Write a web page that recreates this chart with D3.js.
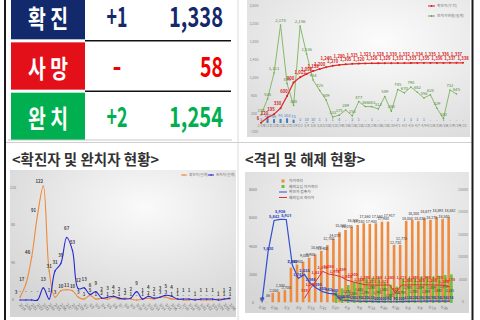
<!DOCTYPE html>
<html><head><meta charset="utf-8">
<script src="https://cdn.jsdelivr.net/npm/d3@7"></script>
<style>
body{margin:0;background:#fff;}
svg{display:block;font-family:"Noto Sans CJK KR","Noto Sans",sans-serif;}
</style></head><body>
<svg id="c" width="480" height="320"></svg>
<script>
// ---------------- DATA ----------------
const summaryLabels = ["확 진", "사 망", "완 치"];
const summaryChange = ["+1", "-", "+2"];
const summaryTotal = ["1,338", "58", "1,254"];

const cumDates = ["2/19","2/21","2/23","2/25","2/27","2/29","3/2","3/4","3/6","3/8","3/10","3/12","3/14","3/16","3/18","3/20","3/22","3/24","3/26","3/28","3/30","4/1","4/3","4/5","4/7","4/9","4/11","4/13","4/15","4/17","4/19","4/21"];
const cumConfirmed = [6,120,195,330,600,900,1015,1090,1155,1200,1240,1270,1290,1305,1315,1320,1323,1326,1328,1329,1330,1331,1332,1333,1334,1335,1335,1336,1336,1337,1337,1338];
const isolated = [178,536,1111,2178,876,388,2156,1536,954,725,509,133,175,289,158,477,366,363,312,589,260,745,670,798,682,556,628,329,100,732,645];
const dailyNew = [3,102,86,91,103,73,3,10,10,1,1,1,4,0,3,1,0,1,0,0,0,2,1,3,1,1,0,0,1,0,0,0];
const cumYTicks = [-200,200,600,1000,1400,1800,2200,2600];
const cumLegend = ["확진자(누적)", "완치자현황(일계)"];

const dayDates = ["2/19","2/20","2/21","2/22","2/23","2/24","2/25","2/26","2/27","2/28","2/29","3/1","3/2","3/3","3/4","3/5","3/6","3/7","3/8","3/9","3/10","3/11","3/12","3/13","3/14","3/15","3/16","3/17","3/18","3/19","3/20","3/21","3/22","3/23","3/24","3/25","3/26"];
const dailyConfirmed = [3,17,46,91,122,31,3,10,11,10,3,1,5,1,2,1,3,1,2,1,0,1,2,1,3,3,1,1,0,0,1,0,0,0,1,1,1];
const dailyRecovered = [0,0,0,0,13,1,31,39,67,53,12,13,6,9,2,3,4,2,1,2,9,1,4,2,3,5,4,1,1,1,0,1,1,1,0,1,2];
const dayYTicks = [0,40,80,120];
const dayLegend = ["확진자(일계)", "완치자(일계)"];

const qDates = ["2/20","2/23","2/26","2/29","3/3","3/6","3/9","3/12","3/15","3/18","3/21","3/24","3/27","3/30","4/2","4/5","4/8","4/11","4/14","4/17","4/20","4/23","4/26","4/29","5/2","5/5","5/8","5/11","5/14","5/17","5/20","5/23"];
const selfQuarantine = [12,56,2050,2300,2700,7700,8400,9000,9900,10670,11400,12700,14070,15560,16070,16800,17180,17560,17400,17560,17900,17917,12730,12775,18050,18300,18030,18677,18276,18893,18500,18882];
const overseasQuarantine = [0,0,0,0,0,0,0,0,0,0,0,0,799,1039,1272,1505,1625,1745,1788,1745,1505,1300,1153,1745,1788,1788,1859,1859,1859,1930,1978,2025];
const contacts = [49,3620,5842,5926,5913,2682,1741,2024,1388,1050,800,682,650,212,180,150,130,120,110,100,100,90,90,100,110,120,125,130,130,134,134,134];
const overseasArrivals = [null,null,null,null,null,null,null,329,1035,1617,2239,2050,1976,1859,1624,1500,1388,1290,1271,1265,1271,1280,702,1271,1280,1290,1285,1290,1280,1270,1260,1135];
const qLeftTicks = [0,2000,4000,6000,8000];
const qRightTicks = [0,5000,10000,15000,20000,25000];
const qLegend = ["자가격리", "해외유입 자가격리", "확진자 접촉자", "해외입국 격리자"];

// ---------------- DRAW ----------------
const svg = d3.select("#c");
const defs = svg.append("defs");
function grad(id, c0, c1, cx, cy) {
  const g = defs.append("radialGradient").attr("id", id).attr("cx", cx).attr("cy", cy).attr("r", "80%");
  g.append("stop").attr("offset", "0%").attr("stop-color", c0);
  g.append("stop").attr("offset", "100%").attr("stop-color", c1);
}
grad("gTR", "#fcfcfc", "#dcdcdc", "60%", "30%");
grad("gBL", "#fafafa", "#d4d4d4", "60%", "25%");
grad("gBR", "#fafafa", "#d6d6d6", "55%", "25%");
const fmt = d3.format(",");

// frame
svg.append("line").attr("x1",238).attr("x2",238).attr("y1",0).attr("y2",320).attr("stroke","#dadada");
svg.append("line").attr("x1",5).attr("x2",472).attr("y1",142.5).attr("y2",142.5).attr("stroke","#cfcfcf");
svg.append("line").attr("x1",5).attr("x2",5).attr("y1",0).attr("y2",320).attr("stroke","#1a1a1a").attr("stroke-width",2);
svg.append("line").attr("x1",472.5).attr("x2",472.5).attr("y1",0).attr("y2",320).attr("stroke","#1a1a1a").attr("stroke-width",2);

// ---- summary table ----
const rowY = d3.scaleBand().domain(summaryLabels).range([-8, 140]).paddingInner(0.06);
const boxColors = ["#12296c", "#e3101a", "#00b050"];
const numColors = ["#14286c", "#f00000", "#00b050"];
const tl = svg.append("g");
summaryLabels.forEach((lab, i) => {
  const y0 = rowY(lab), h = rowY.bandwidth(), cy = y0 + h / 2;
  tl.append("rect").attr("x", 11).attr("y", y0).attr("width", 74).attr("height", h).attr("fill", boxColors[i]);
  tl.append("text").attr("x", 48).attr("y", cy + 1).attr("text-anchor", "middle").attr("dominant-baseline", "central")
    .attr("fill", "#fff").attr("font-size", 25).attr("font-weight", 700)
    .attr("textLength", 40).attr("lengthAdjust", "spacingAndGlyphs").text(lab);
  const ch = summaryChange[i];
  tl.append("text").attr("x", 117).attr("y", cy + 11).attr("text-anchor", "middle")
    .attr("fill", numColors[i]).attr("font-size", 28).attr("font-weight", 700)
    .attr("textLength", ch.length > 1 ? 21 : 9).attr("lengthAdjust", "spacingAndGlyphs").text(ch);
  const tot = summaryTotal[i];
  tl.append("text").attr("x", 223).attr("y", cy + 11).attr("text-anchor", "end")
    .attr("fill", numColors[i]).attr("font-size", 28).attr("font-weight", 700)
    .attr("textLength", tot.length > 2 ? 54 : 23).attr("lengthAdjust", "spacingAndGlyphs").text(tot);
  if (i < 2) {
    const ly = y0 + h + (rowY.step() - h) / 2;
    tl.append("line").attr("x1", 85).attr("x2", 231).attr("y1", ly).attr("y2", ly).attr("stroke", "#111").attr("stroke-width", 1.5);
  }
});
tl.append("line").attr("x1", 8).attr("x2", 232).attr("y1", 140).attr("y2", 140).attr("stroke", "#c8c8c8");

// ---- top-right cumulative chart ----
const tr = svg.append("g");
tr.append("rect").attr("x", 247).attr("y", 0).attr("width", 223).attr("height", 137).attr("fill", "url(#gTR)");
const trX = d3.scalePoint().domain(cumDates).range([261, 463]);
const trY = d3.scaleLinear().domain([-200, 2600]).range([132, 6]);
tr.selectAll("text.yt").data(cumYTicks).join("text").attr("x", 254).attr("y", d => trY(d) + 1)
  .attr("text-anchor", "middle").attr("font-size", 3.5).attr("fill", "#8a8a8a").text(d => fmt(d));
tr.selectAll("text.xt").data(cumDates).join("text").attr("x", d => trX(d)).attr("y", 127)
  .attr("text-anchor", "middle").attr("font-size", 3.6).attr("fill", "#808080").text(d => d);
tr.selectAll("rect.b").data(dailyNew).join("rect")
  .attr("x", (d, i) => trX(cumDates[i]) - 1).attr("width", 2)
  .attr("y", d => trY(d)).attr("height", d => trY(0) - trY(d)).attr("fill", "#3f7fc4");
tr.selectAll("text.bl").data(dailyNew).join("text").attr("x", (d, i) => trX(cumDates[i])).attr("y", d => trY(d) - 1.5)
  .attr("text-anchor", "middle").attr("font-size", 4).attr("fill", "#3f7fc4").text(d => d === 0 ? "-" : d);
const gLine = d3.line().x((d, i) => trX(cumDates[i])).y(d => trY(d));
tr.append("path").datum(isolated).attr("d", gLine).attr("fill", "none").attr("stroke", "#7cb45a").attr("stroke-width", 0.9);
tr.selectAll("circle.g").data(isolated).join("circle").attr("cx", (d, i) => trX(cumDates[i])).attr("cy", d => trY(d)).attr("r", 0.8).attr("fill", "#6aa84f");
tr.selectAll("text.gl").data(isolated).join("text").attr("x", (d, i) => trX(cumDates[i])).attr("y", d => trY(d) - 3)
  .attr("text-anchor", "middle").attr("font-size", 4.2).attr("fill", "#4f8a34").text(d => fmt(d));
tr.append("path").datum(cumConfirmed).attr("d", gLine).attr("fill", "none").attr("stroke", "#e0302c").attr("stroke-width", 1.3);
tr.selectAll("circle.r").data(cumConfirmed).join("circle").attr("cx", (d, i) => trX(cumDates[i])).attr("cy", d => trY(d)).attr("r", 1).attr("fill", "#d62020");
tr.selectAll("text.rl").data(cumConfirmed).join("text").attr("x", (d, i) => trX(cumDates[i]) - (i < 6 ? 3 : 0))
  .attr("y", (d, i) => trY(d) - (i > 8 && i % 2 === 0 ? 7 : 3))
  .attr("text-anchor", "middle").attr("font-size", 4.2).attr("fill", "#d62020").attr("font-weight", 700).text(d => fmt(d));
[["#d62020", cumLegend[0], 6], ["#6aa84f", cumLegend[1], 16]].forEach(([c, t, y]) => {
  tr.append("line").attr("x1", 428).attr("x2", 435).attr("y1", y).attr("y2", y).attr("stroke", c).attr("stroke-width", 1);
  tr.append("circle").attr("cx", 431.5).attr("cy", y).attr("r", 0.9).attr("fill", c);
  tr.append("text").attr("x", 437).attr("y", y + 1.3).attr("font-size", 3.8).attr("fill", "#777").text(t);
});

// ---- titles ----
svg.append("text").attr("x", 12).attr("y", 165).attr("font-size", 14.5).attr("font-weight", 700).attr("fill", "#333").text("<확진자 및 완치자 현황>");
svg.append("text").attr("x", 245).attr("y", 165).attr("font-size", 14.5).attr("font-weight", 700).attr("fill", "#333").text("<격리 및 해제 현황>");

// ---- bottom-left daily chart ----
const bl = svg.append("g");
bl.append("rect").attr("x", 10).attr("y", 170).attr("width", 226).attr("height", 147).attr("fill", "url(#gBL)");
const blX = d3.scalePoint().domain(dayDates).range([20, 230]);
const blY = d3.scaleLinear().domain([0, 120]).range([300, 188]);
bl.selectAll("text.yt").data(dayYTicks).join("text").attr("x", 13).attr("y", d => blY(d) + 1)
  .attr("text-anchor", "middle").attr("font-size", 3.6).attr("fill", "#777").text(d => d);
bl.selectAll("text.xt").data(dayDates).join("text")
  .attr("transform", d => `translate(${blX(d) - 1},${305}) rotate(50)`)
  .attr("font-size", 3.8).attr("fill", "#666").text(d => d);
const dLine = d3.line().x((d, i) => blX(dayDates[i])).y(d => blY(d)).curve(d3.curveCatmullRom.alpha(0.5));
[[dailyConfirmed, "#ed8a3b"], [dailyRecovered, "#2727d6"]].forEach(([arr, col], k) => {
  bl.append("path").datum(arr).attr("d", dLine).attr("fill", "none").attr("stroke", col).attr("stroke-width", 1.1);
  bl.selectAll("circle.m" + k).data(arr).join("circle").attr("cx", (d, i) => blX(dayDates[i])).attr("cy", d => blY(d)).attr("r", 0.7).attr("fill", col);
  bl.selectAll("text.l" + k).data(arr).join("text")
    .attr("x", (d, i) => blX(dayDates[i]) - (k === 0 && i < 5 ? 4 : 0))
    .attr("y", d => blY(d) - (k === 0 ? 3 : 7))
    .attr("text-anchor", "middle").attr("font-size", 4.4).attr("font-weight", 700).attr("fill", "#444")
    .text(d => d === 0 ? "-" : d);
});
[[dayLegend[0], "#ed8a3b", 181], [dayLegend[1], "#2727d6", 208]].forEach(([t, c, x]) => {
  bl.append("line").attr("x1", x).attr("x2", x + 6).attr("y1", 175).attr("y2", 175).attr("stroke", c).attr("stroke-width", 1);
  bl.append("circle").attr("cx", x + 3).attr("cy", 175).attr("r", 0.8).attr("fill", c);
  bl.append("text").attr("x", x + 8).attr("y", 176.3).attr("font-size", 3.6).attr("fill", "#777").text(t);
});

// ---- bottom-right quarantine chart ----
const br = svg.append("g");
br.append("rect").attr("x", 245).attr("y", 172).attr("width", 224).attr("height", 141).attr("fill", "url(#gBR)");
const qX = d3.scaleBand().domain(qDates).range([259, 453]).paddingInner(0.12).paddingOuter(0.05);
const qSub = d3.scaleBand().domain(["o", "g"]).range([0, qX.bandwidth()]).paddingInner(0.05);
const yL = d3.scaleLinear().domain([0, 8000]).range([303, 190]);
const yR = d3.scaleLinear().domain([0, 25000]).range([302.3, 189.8]);
br.selectAll("text.yl").data(qLeftTicks).join("text").attr("x", 253).attr("y", d => yL(d) + 1)
  .attr("text-anchor", "middle").attr("font-size", 3.6).attr("fill", "#777").text(d => d);
br.selectAll("text.yr").data(qRightTicks).join("text").attr("x", 463).attr("y", d => yR(d) + 1)
  .attr("text-anchor", "middle").attr("font-size", 3.6).attr("fill", "#888").text(d => d);
br.selectAll("text.xt").data(qDates.filter((d, i) => i % 2 === 0)).join("text")
  .attr("transform", d => `translate(${qX(d) + qX.bandwidth() / 2},${309}) rotate(15)`)
  .attr("text-anchor", "middle").attr("font-size", 3.6).attr("fill", "#666").text(d => d);
br.selectAll("rect.o").data(selfQuarantine).join("rect")
  .attr("x", (d, i) => qX(qDates[i]) + qSub("o")).attr("width", qSub.bandwidth())
  .attr("y", d => yR(d)).attr("height", d => yR(0) - yR(d)).attr("fill", "#f08a3c");
br.selectAll("rect.g").data(overseasQuarantine).join("rect")
  .attr("x", (d, i) => qX(qDates[i]) + qSub("g")).attr("width", qSub.bandwidth())
  .attr("y", d => yL(d)).attr("height", d => yL(0) - yL(d)).attr("fill", "#6cc13a");
br.selectAll("text.ol").data(selfQuarantine).join("text")
  .attr("x", (d, i) => qX(qDates[i]) + qX.bandwidth() / 2).attr("y", (d, i) => yR(d) - (i % 2 ? 5 : 1.5))
  .attr("text-anchor", "middle").attr("font-size", 3.6).attr("fill", "#333").text(d => fmt(d));
br.selectAll("text.gl").data(overseasQuarantine).join("text")
  .attr("x", (d, i) => qX(qDates[i]) + qX.bandwidth() / 2).attr("y", (d, i) => (yL(d) + yL(0)) / 2 + (i % 2 ? 3 : -1))
  .attr("text-anchor", "middle").attr("font-size", 3.2).attr("fill", "#333").text(d => d ? fmt(d) : "");
const cx = (d, i) => qX(qDates[i]) + qX.bandwidth() / 2;
const qLine = d3.line().defined(d => d != null).x(cx).y(d => yL(d));
br.append("path").datum(overseasArrivals).attr("d", qLine).attr("fill", "none").attr("stroke", "#e03030").attr("stroke-width", 1);
br.append("path").datum(contacts).attr("d", qLine).attr("fill", "none").attr("stroke", "#3050d0").attr("stroke-width", 1.2);
br.selectAll("text.cl").data(contacts).join("text").attr("x", cx).attr("y", (d, i) => yL(d) - (i === 3 ? 6 : 2))
  .attr("text-anchor", "middle").attr("font-size", 3.8).attr("font-weight", 700).attr("fill", "#2a40c0").text(d => fmt(d));
br.selectAll("text.al").data(overseasArrivals).join("text").attr("x", cx).attr("y", (d, i) => d == null ? 0 : yL(d) - (i % 2 ? 6 : 2.5))
  .attr("text-anchor", "middle").attr("font-size", 3.8).attr("font-weight", 700).attr("fill", "#e03030").text(d => d == null ? "" : fmt(d));
const legY = [181, 186.5, 192, 197.5];
qLegend.forEach((t, i) => {
  if (i < 2) br.append("rect").attr("x", 281.5).attr("y", legY[i] - 1.5).attr("width", 3).attr("height", 3).attr("fill", i ? "#6cc13a" : "#f08a3c");
  else br.append("line").attr("x1", 279).attr("x2", 287).attr("y1", legY[i]).attr("y2", legY[i]).attr("stroke", i === 2 ? "#3050d0" : "#e03030").attr("stroke-width", 1);
  br.append("text").attr("x", 289).attr("y", legY[i] + 1.3).attr("font-size", 3.8).attr("fill", "#666").text(t);
});
</script>
</body></html>
